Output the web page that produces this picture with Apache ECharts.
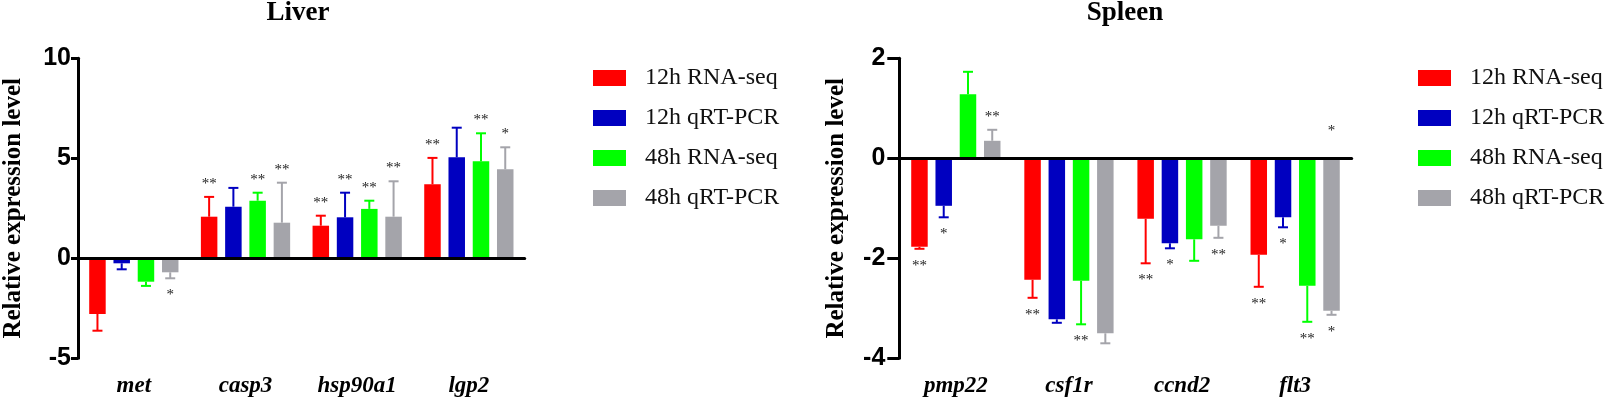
<!DOCTYPE html>
<html>
<head>
<meta charset="utf-8">
<title>Liver / Spleen</title>
<script src="https://cdn.jsdelivr.net/npm/echarts@6/dist/echarts.min.js"></script>
<style>
html, body { margin: 0; padding: 0; background: #fff; }
#chart { width: 1611px; height: 403px; }
</style>
</head>
<body>
<div id="chart"></div>
<script>
// 数据
var seriesNames = ['12h RNA-seq', '12h qRT-PCR', '48h RNA-seq', '48h qRT-PCR'];

var liverGenes = ['met', 'casp3', 'hsp90a1', 'lgp2'];
var liver12hSeq = [-2.78, 2.08, 1.63, 3.70];
var liver12hSeqErr = [0.84, 0.99, 0.50, 1.32];
var liver12hPcr = [-0.25, 2.58, 2.05, 5.05];
var liver12hPcrErr = [0.30, 0.94, 1.23, 1.48];
var liver48hSeq = [-1.17, 2.88, 2.47, 4.85];
var liver48hSeqErr = [0.21, 0.40, 0.41, 1.40];
var liver48hPcr = [-0.70, 1.78, 2.08, 4.45];
var liver48hPcrErr = [0.30, 2.00, 1.77, 1.10];
var liver12hSeqStar = ['', '**', '**', '**'];
var liver12hPcrStar = ['', '', '**', ''];
var liver48hSeqStar = ['', '**', '**', '**'];
var liver48hPcrStar = ['*', '**', '**', '*'];

var spleenGenes = ['pmp22', 'csf1r', 'ccnd2', 'flt3'];
var spleen12hSeq = [-1.77, -2.43, -1.21, -1.93];
var spleen12hSeqErr = [0.04, 0.36, 0.89, 0.64];
var spleen12hPcr = [-0.95, -3.22, -1.70, -1.18];
var spleen12hPcrErr = [0.23, 0.07, 0.10, 0.20];
var spleen48hSeq = [1.28, -2.45, -1.62, -2.55];
var spleen48hSeqErr = [0.45, 0.87, 0.43, 0.72];
var spleen48hPcr = [0.35, -3.50, -1.35, -3.05];
var spleen48hPcrErr = [0.22, 0.20, 0.24, 0.08];
var spleen12hSeqStar = ['**', '**', '**', '**'];
var spleen12hPcrStar = ['*', '', '*', '*'];
var spleen48hSeqStar = ['', '**', '', '**'];
var spleen48hPcrStar = ['**', '', '**', '*'];
// flt3 48h qRT-PCR 上方多出的一个星号
var spleenExtraStar = [[3, 3, 0.55, '*']];

var colors = ['#ff0000', '#0000c0', '#00ff00', '#a4a4aa'];
var serif = 'Liberation Serif';
var sans = 'Liberation Sans';

var barW = 16.5;
var barGapPct = 0.47;
var pitch = barW * (1 + barGapPct);
var starFont = '15px ' + serif;

var myChart = echarts.init(document.getElementById('chart'));

function errData(vals, errs, stars) {
	var out = [];
	for (var s = 0; s < vals.length; s++) {
		for (var c = 0; c < vals[s].length; c++) {
			out.push([c, s, vals[s][c], errs[s][c], 0, stars[s][c]]);
		}
	}
	return out;
}

// 误差线 + 星号
function renderErr(params, api) {
	var c = api.value(0), s = api.value(1), v = api.value(2), e = api.value(3), kind = api.value(4);
	var star = api.value(5);
	var col = colors[s];
	var base = api.coord([c, v]);
	var x = base[0] + (s - 1.5) * pitch;
	if (kind === 1) {
		return {
			type: 'text', x: x, y: base[1],
			style: { text: star, fill: '#222', font: starFont, align: 'center', verticalAlign: 'middle' }
		};
	}
	var sign = v >= 0 ? 1 : -1;
	var end = api.coord([c, v + sign * e]);
	var children = [
		{ type: 'line', shape: { x1: x, y1: base[1], x2: x, y2: end[1] }, style: { stroke: col, lineWidth: 2 } },
		{ type: 'line', shape: { x1: x - 5, y1: end[1], x2: x + 5, y2: end[1] }, style: { stroke: col, lineWidth: 2 } }
	];
	if (star) {
		children.push({
			type: 'text', x: x, y: end[1] + (sign > 0 ? -13 : 17),
			style: { text: star, fill: '#222', font: starFont, align: 'center', verticalAlign: 'middle' }
		});
	}
	return { type: 'group', children: children };
}

function barSeries(name, idx, data, axis) {
	var o = {
		name: name,
		type: 'bar',
		xAxisIndex: axis,
		yAxisIndex: axis,
		barWidth: barW,
		barGap: (barGapPct * 100) + '%',
		itemStyle: { color: colors[idx] },
		data: data,
		z: 2
	};
	if (idx === 0) {
		o.markLine = {
			silent: true,
			symbol: ['none', 'none'],
			label: { show: false },
			lineStyle: { color: '#000', width: 3, type: 'solid' },
			data: [{ yAxis: 0 }],
			z: 5
		};
	}
	return o;
}

function catAxis(idx, genes) {
	return {
		type: 'category',
		gridIndex: idx,
		data: genes,
		boundaryGap: true,
		axisLine: { lineStyle: { color: '#000', width: 3 } },
		axisTick: { alignWithLabel: true, length: 12, lineStyle: { color: '#000', width: 3 } },
		axisLabel: { margin: 16, color: '#000', fontFamily: serif, fontStyle: 'italic', fontWeight: 'bold', fontSize: 23 },
		splitLine: { show: false }
	};
}

function valAxis(idx, min, max, interval, tickLen, labelMargin, nameGap) {
	return {
		type: 'value',
		gridIndex: idx,
		min: min,
		max: max,
		interval: interval,
		name: 'Relative expression level',
		nameLocation: 'middle',
		nameRotate: 90,
		nameGap: nameGap,
		nameTextStyle: { color: '#000', fontFamily: serif, fontWeight: 'bold', fontSize: 25 },
		axisLine: { show: true, lineStyle: { color: '#000', width: 3 } },
		axisTick: { show: true, length: tickLen, lineStyle: { color: '#000', width: 3 } },
		axisLabel: { margin: labelMargin, color: '#000', fontFamily: sans, fontWeight: 'bold', fontSize: 25 },
		splitLine: { show: false }
	};
}

function legendAt(left) {
	return {
		orient: 'vertical',
		left: left,
		top: 66,
		padding: 0,
		icon: 'rect',
		itemWidth: 33,
		itemHeight: 16,
		itemGap: 16,
		data: seriesNames,
		textStyle: { color: '#111', fontFamily: serif, fontSize: 24, lineHeight: 24, padding: [0, 0, 0, 14] }
	};
}

var liverVals = [liver12hSeq, liver12hPcr, liver48hSeq, liver48hPcr];
var liverErrs = [liver12hSeqErr, liver12hPcrErr, liver48hSeqErr, liver48hPcrErr];
var liverStars = [liver12hSeqStar, liver12hPcrStar, liver48hSeqStar, liver48hPcrStar];
var spleenVals = [spleen12hSeq, spleen12hPcr, spleen48hSeq, spleen48hPcr];
var spleenErrs = [spleen12hSeqErr, spleen12hPcrErr, spleen48hSeqErr, spleen48hPcrErr];
var spleenStars = [spleen12hSeqStar, spleen12hPcrStar, spleen48hSeqStar, spleen48hPcrStar];

var spleenErrData = errData(spleenVals, spleenErrs, spleenStars);
spleenExtraStar.forEach(function (d) {
	spleenErrData.push([d[0], d[1], d[2], 0, 1, d[3]]);
});

var series = [];
for (var i = 0; i < 4; i++) series.push(barSeries(seriesNames[i], i, liverVals[i], 0));
for (var j = 0; j < 4; j++) series.push(barSeries(seriesNames[j], j, spleenVals[j], 1));
series.push({
	type: 'custom', xAxisIndex: 0, yAxisIndex: 0, renderItem: renderErr,
	encode: { x: 0, y: 2 }, data: errData(liverVals, liverErrs, liverStars), z: 3, silent: true
});
series.push({
	type: 'custom', xAxisIndex: 1, yAxisIndex: 1, renderItem: renderErr,
	encode: { x: 0, y: 2 }, data: spleenErrData, z: 3, silent: true
});

var option = {
	backgroundColor: '#fff',
	animation: false,
	title: [
		{ text: 'Liver', left: 298, top: 0, padding: 0, textAlign: 'center',
			textStyle: { color: '#000', fontFamily: serif, fontWeight: 'bold', fontSize: 27 } },
		{ text: 'Spleen', left: 1125, top: 0, padding: 0, textAlign: 'center',
			textStyle: { color: '#000', fontFamily: serif, fontWeight: 'bold', fontSize: 27 } }
	],
	legend: [legendAt(593), legendAt(1418)],
	grid: [
		{ left: 71.7, top: 58.3, width: 453, height: 300, containLabel: false },
		{ left: 899.3, top: 58.3, width: 452.4, height: 300, containLabel: false }
	],
	xAxis: [catAxis(0, liverGenes), catAxis(1, spleenGenes)],
	yAxis: [valAxis(0, -5, 10, 5, 7, 7, 52), valAxis(1, -4, 2, 2, 12, 14, 50)],
	series: series
};

myChart.setOption(option);
window.onresize = myChart.resize;
</script>
</body>
</html>
